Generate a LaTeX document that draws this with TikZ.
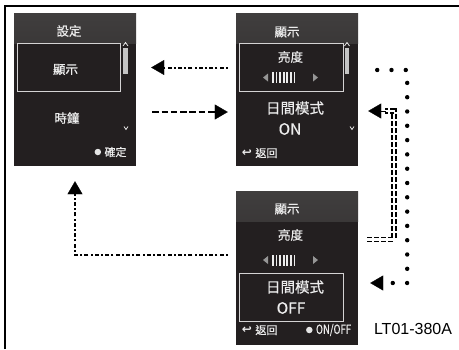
\documentclass[tikz,border=0pt]{standalone}
\usepackage{fontspec}
\setmainfont{Liberation Sans}
\newfontfamily\cjk[FakeBold=0.6]{Noto Sans CJK TC}
\newfontfamily\cjkc[FakeStretch=0.76, FakeBold=0.6]{Noto Sans CJK TC}
\newfontfamily\symb{DejaVu Sans}
\usetikzlibrary{arrows.meta, positioning}

\definecolor{scrbg}{RGB}{35,31,32}
\definecolor{scrtop}{RGB}{64,62,62}
\definecolor{scrtx}{RGB}{236,236,236}
\definecolor{scrbar}{RGB}{196,196,196}
\definecolor{scrtri}{RGB}{150,150,150}

\begin{document}
\begin{tikzpicture}[
    x=1pt, y=-1pt,
    font=\cjk\fontsize{12.5}{14}\selectfont,
    arr/.style={-{Triangle[length=13pt, width=15pt, line width=0.3pt]}, line width=2pt},
    dotline/.style={dash pattern=on 2pt off 2.2pt on 4pt off 2.2pt},
    dashline/.style={dash pattern=on 6.5pt off 2.8pt},
    dots/.style={line width=4.4pt, line cap=round, dash pattern=on 0pt off 14.3pt},
    dbl/.style={line width=1.7pt, double, double distance=2.3pt,
        dash pattern=on 5pt off 2pt},
    screen/.style={
        rectangle, fill=scrbg, inner sep=0pt,
        minimum width=122pt, minimum height=153pt,
        path picture={\shade[top color=scrtop, bottom color=scrbg]
            (path picture bounding box.north west) rectangle
            ([yshift=-30pt]path picture bounding box.north east);}
    },
    lbl/.style={text=scrtx, inner sep=0pt},
    big/.style={lbl, font=\cjk\fontsize{14.5}{16}\selectfont},
    val/.style={lbl, font=\cjk\fontsize{15.5}{17}\selectfont},
    small/.style={lbl, font=\cjk\fontsize{11}{12}\selectfont},
    tiny/.style={lbl, font=\cjkc\fontsize{12.5}{14}\selectfont},
    selbox/.style={draw=scrtx!88!scrbg, line width=1pt, inner sep=0pt,
        minimum width=104pt, minimum height=48pt},
    sbar/.style={fill=scrbar, inner sep=0pt, minimum width=4.5pt, minimum height=26pt},
    knob/.style={circle, fill=scrtx!80!scrbar, inner sep=0pt, minimum size=6.5pt},
    chev/.style={draw=scrtx, line width=0.8pt},
    back/.style={lbl, font=\symb\bfseries\fontsize{12}{12}\selectfont},
    slider/.pic={
        \fill[scrtri] (-22.5,-4) -- (-27.5,0) -- (-22.5,4) -- cycle;
        \foreach \i in {0,...,6}
            \fill[scrtx] (-18.5+3.6*\i,-5.5) rectangle ++(1.7,11);
        \fill[scrtri] (22.5,-4) -- (27.5,0) -- (22.5,4) -- cycle;
    },
]
    \useasboundingbox (0,0) rectangle (459,349);

    % Marco
    \draw[line width=2pt] (4.8,349) -- (4.8,5.5) -- (459,5.5);

    % Pantallas
    \node[screen] (scr1) at (75,89.5)  {};
    \node[screen] (scr2) at (297,89.5) {};
    \node[screen] (scr3) at (297,268)  {};

    % Pantalla 1: ajustes
    \node[lbl]                        (tit1)  at (69,31)    {設定};
    \node[selbox, minimum width=103pt] (sel1) at (68.5,67)  {};
    \node[lbl]                        (disp1) at (65.5,69.5) {顯示};
    \node[lbl]                        (clock) at (67,118)   {時鐘};
    \node[sbar]                       (bar1)  at (125.5,61) {};
    \node[small]                      (ok)    at (115.5,152) {確定};
    \node[knob, left=3pt of ok]       (okdot) {};
    \draw[chev] (123,46) -- (125.5,42.5) -- (128,46);
    \draw[chev] (124,126.5) -- (126,129.5) -- (128,126.5);

    % Pantalla 2: modo diurno activado
    \node[lbl]                   (tit2)    at (287,32)    {顯示};
    \node[selbox]                (sel2)    at (291,67.5)  {};
    \node[lbl]                   (bright2) at (290.5,57)  {亮度};
    \pic at (290.5,77.5) {slider};
    \node[big]                   (mode2)   at (295,108)   {日間模式};
    \node[val]                   (on)      at (290,129)   {ON};
    \node[sbar]                  (bar2)    at (347,61)    {};
    \node[back]                  (bk2)     at (247,153)   {↩};
    \node[small, right=3pt of bk2] (ret2) {返回};
    \draw[chev] (344.5,46) -- (347,42.5) -- (349.5,46);
    \draw[chev] (350,126.5) -- (352,129.5) -- (354,126.5);

    % Pantalla 3: modo diurno desactivado
    \node[lbl]                   (tit3)    at (287,209)   {顯示};
    \node[lbl]                   (bright3) at (290.5,235) {亮度};
    \pic at (290.5,260) {slider};
    \node[selbox]                (sel3)    at (291,297.5) {};
    \node[big]                   (mode3)   at (295,287)   {日間模式};
    \node[val]                   (off)     at (291,308)   {OFF};
    \node[back]                  (bk3)     at (247,330)   {↩};
    \node[small, right=3pt of bk3] (ret3) {返回};
    \node[tiny]                  (onoff)   at (333.5,330) {ON/OFF};
    \node[knob, left=3pt of onoff] (ondot) {};

    \node[font=\normalfont\fontsize{16}{18}\selectfont, inner sep=0pt] (code) at (413,329) {LT01-380A};

    % Conexiones
    \draw[arr, dotline]  ([xshift=-8pt]scr2.west |- sel2) -- ([xshift=15pt]scr1.east |- sel2);
    \draw[arr, dashline] ([xshift=16pt]scr1.east |- 0,112) -- ([xshift=-8pt]scr2.west |- 0,112);
    \draw[arr, dots] ([xshift=19pt]scr2.east |- 0,70)
        -| ([xshift=49pt]scr2.east |- 0,283) -- ([xshift=12pt]scr3.east |- 0,283);
    \draw[dbl] ([xshift=9pt]scr3.east |- 0,239.5)
        -| ([xshift=35.5pt]scr2.east |- 0,111) -- ([xshift=27pt]scr2.east |- 0,111);
    \draw[arr, line width=1pt] ([xshift=28pt]scr2.east |- 0,111) -- ([xshift=10pt]scr2.east |- 0,111);
    \draw[arr, dotline] ([xshift=-8pt]scr3.west |- 0,255) -| ([yshift=-15pt]scr1.south);

\end{tikzpicture}
\end{document}
